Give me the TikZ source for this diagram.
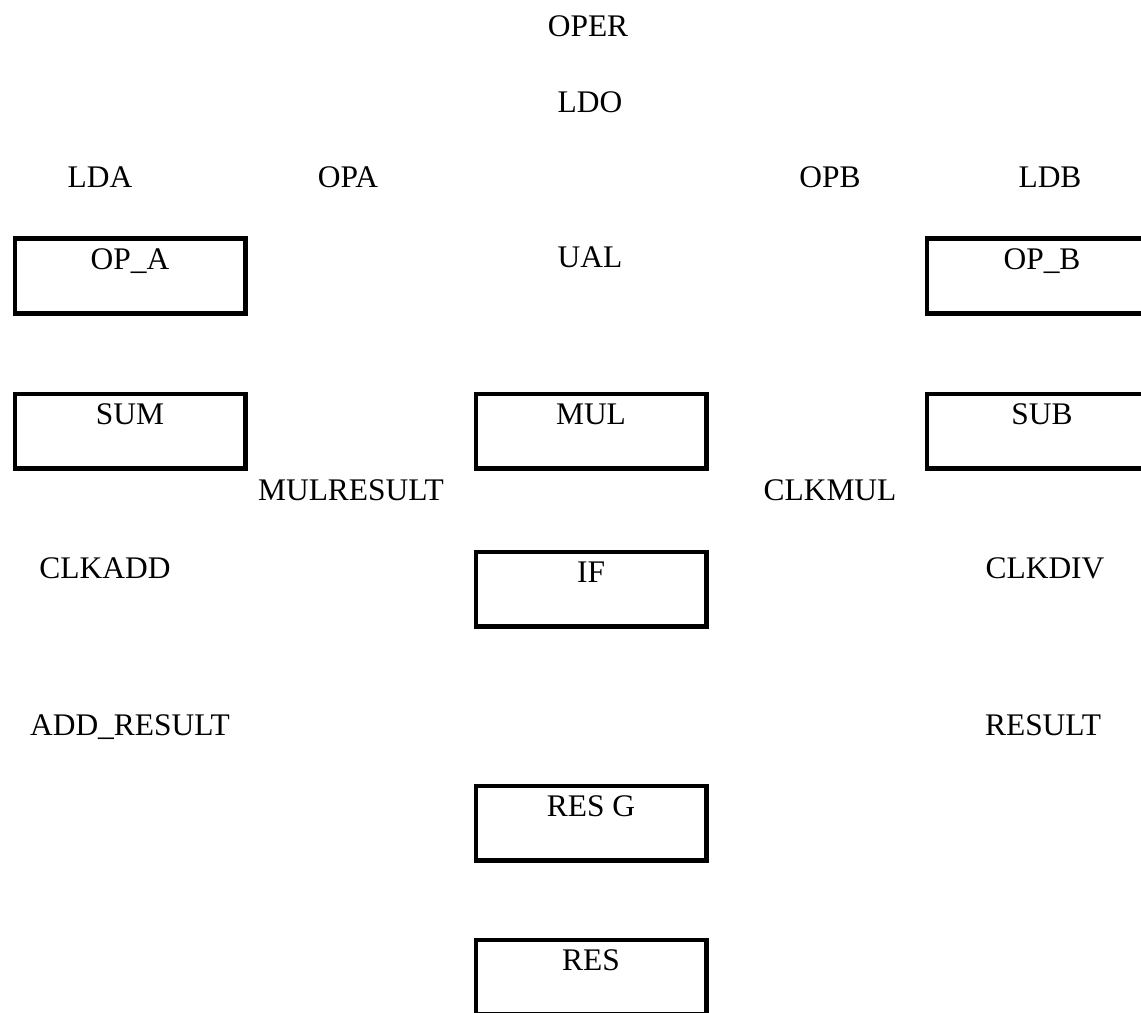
\documentclass[tikz,border=0pt]{standalone}
\usepackage{fontspec}
\setmainfont{Liberation Serif}
\usepackage{tikz}
\usetikzlibrary{shapes,positioning}

\begin{document}
\begin{tikzpicture}[x=0.02cm, y=-0.02cm]
		\tikzstyle{Signal}	= [anchor=base, inner sep=0pt, font=\fontsize{17.9}{21}\selectfont]
		\tikzstyle{Block}	= [rectangle, draw, line width=2.3pt, minimum width=4.62cm, minimum height=1.5cm, inner sep=0pt]
		\tikzstyle{Name}	= [anchor=north, inner sep=7pt, font=\fontsize{17.9}{21}\selectfont]

		\useasboundingbox (0, 0) rectangle (1141, 1012);

		% signals
		\node (oper) at (588, 36) [Signal] {OPER};
		\node (ldo) at (590, 112) [Signal] {LDO};
		\node (lda) at (100, 187) [Signal] {LDA};
		\node (opa) at (348, 187) [Signal] {OPA};
		\node (opb) at (830, 187) [Signal] {OPB};
		\node (ldb) at (1050, 187) [Signal] {LDB};
		\node (ual) at (590, 267) [Signal] {UAL};
		\node (mulresult) at (351, 500) [Signal] {MULRESULT};
		\node (clkmul) at (830, 500) [Signal] {CLKMUL};
		\node (clkadd) at (105, 578) [Signal] {CLKADD};
		\node (clkdiv) at (1045, 578) [Signal] {CLKDIV};
		\node (addresult) at (130, 735) [Signal] {ADD\_RESULT};
		\node (result) at (1043, 735) [Signal] {RESULT};

		% blocks
		\node (regA) at (130, 276) [Block, label={[Name]north:OP\_A}] {};
		\node (regB) at (1042, 276) [Block, label={[Name]north:OP\_B}] {};
		\node (sum) at (130, 431) [Block, label={[Name]north:SUM}] {};
		\node (mul) at (591, 431) [Block, label={[Name]north:MUL}] {};
		\node (sub) at (1042, 431) [Block, label={[Name]north:SUB}] {};
		\node (iff) at (591, 589) [Block, label={[Name]north:IF}] {};
		\node (resg) at (591, 823) [Block, label={[Name]north:RES G}] {};
		\node (res) at (591, 977) [Block, label={[Name]north:RES}] {};
	\end{tikzpicture}
\end{document}
